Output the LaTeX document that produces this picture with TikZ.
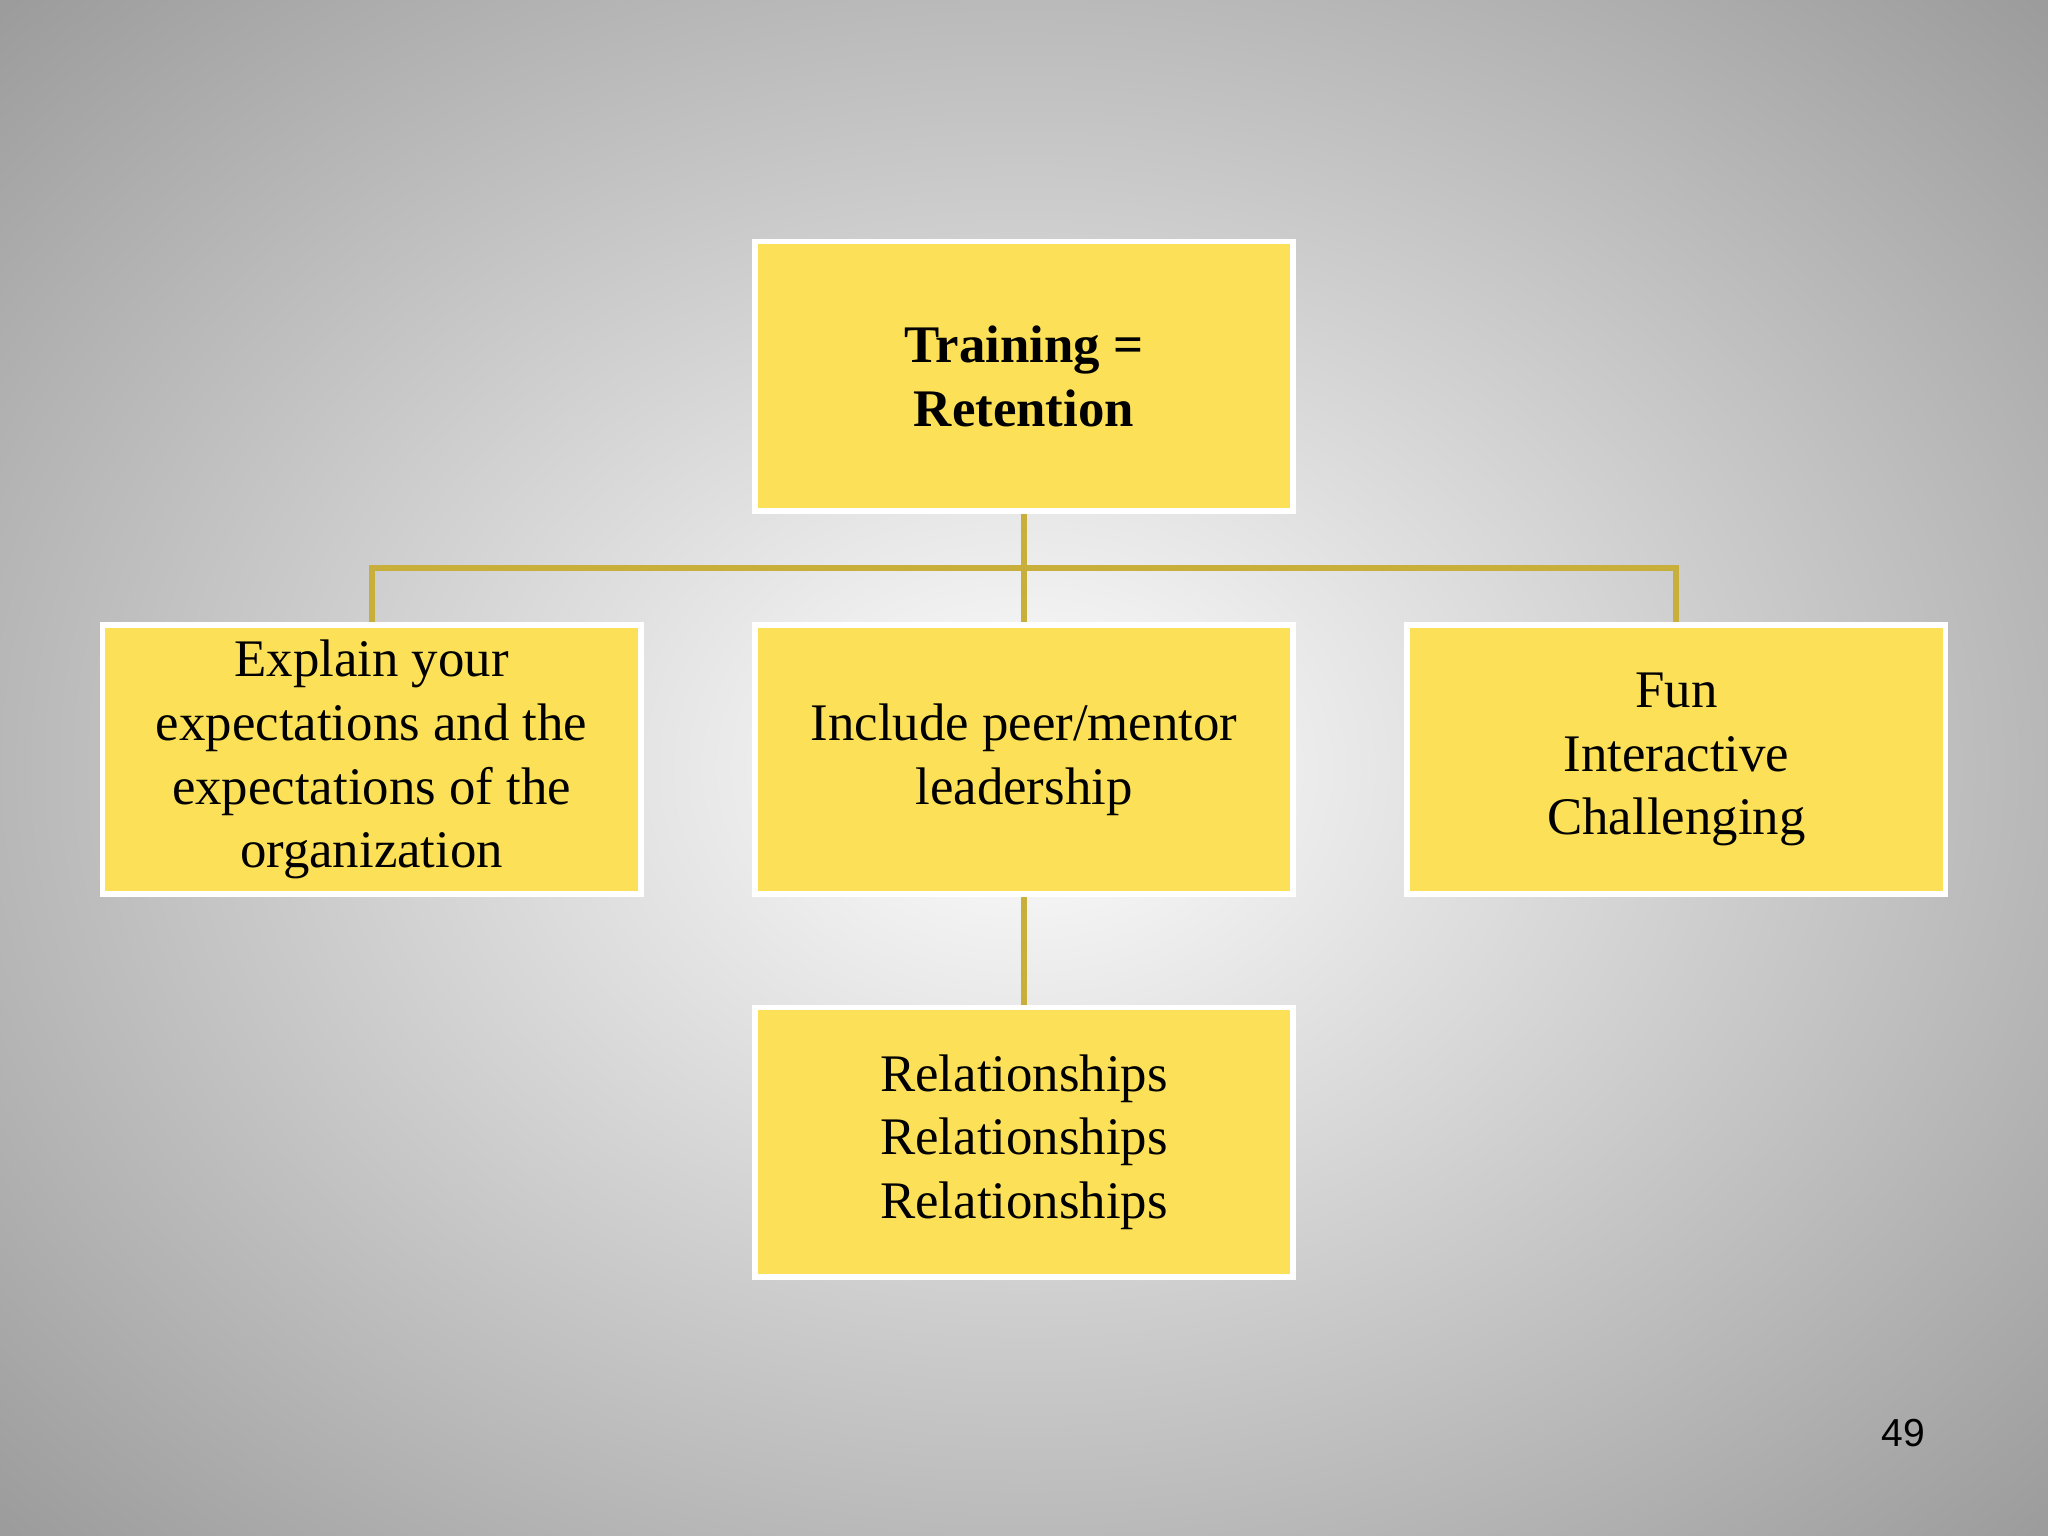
\documentclass[tikz,border=0pt]{standalone}
\usepackage{fontspec}
\setmainfont{Liberation Serif}
\newfontfamily\pgfont{Liberation Sans}
\definecolor{boxy}{HTML}{FCE057}
\definecolor{liney}{HTML}{C8AE3A}
\definecolor{bgout}{HTML}{9C9C9C}
\tikzset{
  bx/.style={draw=white,line width=1.2pt,fill=boxy,minimum width=4.12cm,minimum height=2.06cm,align=center,font=\fontsize{11.5}{13.9}\selectfont,inner sep=0pt},
  cn/.style={liney,line width=1.3pt}
}
\begin{document}
\begin{tikzpicture}[x=0.01cm,y=-0.01cm]
\useasboundingbox (0,0) rectangle (1568,1176);
\shade[inner color=white,outer color=bgout] (-300,-250) rectangle (1868,1426);
\node[bx,font=\bfseries\fontsize{11.5}{13.9}\selectfont] (top) at (784,288) {Training =\\Retention};
\node[bx] (left) at (284.5,581.5) {Explain your\\expectations and the\\expectations of the\\organization};
\node[bx] (mid) at (784,581.5) {Include peer/mentor\\leadership};
\node[bx] (right) at (1283.5,581.5) {Fun\\Interactive\\Challenging};
\node[bx] (bot) at (784,874.5) {Relationships\\Relationships\\Relationships};
\coordinate (j) at (784,435);
\draw[cn] (top.south) -- (mid.north);
\draw[cn] (left.north) |- (j) -| (right.north);
\draw[cn] (mid.south) -- (bot.north);
\node[font=\pgfont\fontsize{8.5}{10}\selectfont] (pg) at (1457,1097) {49};
\end{tikzpicture}
\end{document}
